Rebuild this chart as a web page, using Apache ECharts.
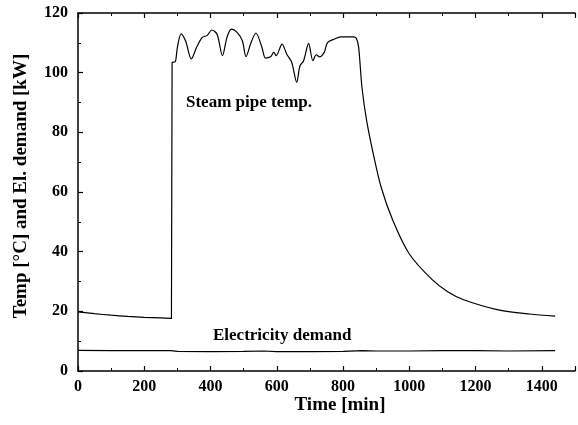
<!DOCTYPE html>
<html>
<head>
<meta charset="utf-8">
<script src="https://cdn.jsdelivr.net/npm/echarts@6/dist/echarts.min.js"></script>
<style>
  html, body { margin: 0; padding: 0; background: #fff; }
  #chart { width: 578px; height: 425px; }
</style>
</head>
<body>
<div id="chart"></div>
<script>
// Steam pipe temperature over one day (min, °C)
const steamTime = [0, 50, 100, 150, 200, 250, 282, 284, 293, 300, 311, 325, 342, 358, 375, 390, 404, 420, 436, 450, 463, 480, 496, 507, 522, 537, 555, 566, 581, 591, 598, 616, 630, 645, 660, 670, 681, 696, 709, 719, 729, 743, 753, 773, 793, 832, 840, 847, 857, 871, 891, 915, 950, 999, 1068, 1117, 1166, 1265, 1363, 1440];
const steamTemp = [19.8, 19.2, 18.7, 18.3, 18.0, 17.8, 17.6, 103.5, 103.6, 108.5, 113.0, 110.5, 104.6, 108.5, 111.8, 112.5, 114.3, 112.8, 105.7, 112.0, 114.6, 113.5, 110.7, 105.4, 110.0, 113.3, 108.5, 104.9, 105.3, 106.8, 105.7, 109.6, 106.2, 103.5, 96.8, 102.3, 104.0, 109.8, 104.0, 106.0, 105.3, 106.8, 110.1, 111.2, 112.0, 112.0, 111.5, 108.5, 95.1, 84.0, 72.9, 61.6, 50.5, 39.4, 30.7, 26.5, 23.8, 20.6, 19.1, 18.4];

// Electricity demand over the same day (min, kW)
const elecTime = [0, 100, 200, 280, 300, 400, 500, 560, 600, 700, 800, 860, 900, 1000, 1100, 1200, 1300, 1440];
const elecDemand = [6.9, 6.8, 6.8, 6.8, 6.6, 6.5, 6.6, 6.7, 6.5, 6.5, 6.6, 6.8, 6.7, 6.7, 6.8, 6.8, 6.7, 6.8];

const xTicks = [0, 200, 400, 600, 800, 1000, 1200, 1400];
const yTicks = [0, 20, 40, 60, 80, 100, 120];

const pair = (xs, ys) => xs.map((x, i) => [x, ys[i]]);

const SERIF = '"Liberation Serif", "Times New Roman", serif';
const INK = '#000';

const frameLine = { show: true, lineStyle: { color: INK, width: 1.5 } };
const majorTick = { show: true, inside: true, length: 5, lineStyle: { color: INK, width: 1.2 } };
const minorTick = { show: true, splitNumber: 2, length: 3, lineStyle: { color: INK, width: 1 } };

const chart = echarts.init(document.getElementById('chart'), null, { renderer: 'canvas' });

chart.setOption({
  animation: false,
  backgroundColor: '#fff',
  grid: { left: 78, top: 13, width: 508.5, height: 358, containLabel: false },
  xAxis: [
    {
      type: 'value', min: 0, max: 1500, interval: 200, position: 'bottom',
      axisLine: frameLine, axisTick: majorTick, minorTick: minorTick,
      splitLine: { show: false },
      axisLabel: {
        margin: 8, color: INK, fontFamily: SERIF, fontWeight: 'bold', fontSize: 16,
        formatter: v => (xTicks.indexOf(v) >= 0 ? String(v) : '')
      }
    },
    {
      type: 'value', min: 0, max: 1500, interval: 200, position: 'top',
      axisLine: frameLine, axisTick: majorTick, minorTick: minorTick,
      splitLine: { show: false }, axisLabel: { show: false }
    }
  ],
  yAxis: [
    {
      type: 'value', min: 0, max: 120, interval: 20, position: 'left',
      axisLine: frameLine, axisTick: majorTick, minorTick: minorTick,
      splitLine: { show: false },
      axisLabel: {
        margin: 10, color: INK, fontFamily: SERIF, fontWeight: 'bold', fontSize: 16,
        formatter: v => (yTicks.indexOf(v) >= 0 ? String(v) : '')
      }
    }
  ],
  series: [
    {
      name: 'Steam pipe temp.', type: 'line', xAxisIndex: 0, yAxisIndex: 0,
      data: pair(steamTime, steamTemp), showSymbol: false,
      smooth: 0.3,
      lineStyle: { color: INK, width: 1.2 }
    },
    {
      name: 'Electricity demand', type: 'line', xAxisIndex: 0, yAxisIndex: 0,
      data: pair(elecTime, elecDemand), showSymbol: false,
      lineStyle: { color: INK, width: 1.2 }
    }
  ],
  graphic: [
    {
      type: 'text', x: 340, y: 405,
      style: { text: 'Time [min]', fill: INK, font: 'bold 19px ' + SERIF, align: 'center', verticalAlign: 'middle' }
    },
    {
      type: 'text', x: 21.5, y: 186, rotation: Math.PI / 2,
      style: { text: 'Temp [°C] and El. demand [kW]', fill: INK, font: 'bold 19px ' + SERIF, align: 'center', verticalAlign: 'middle' }
    },
    {
      type: 'text', x: 186, y: 102.6,
      style: { text: 'Steam pipe temp.', fill: INK, font: 'bold 17px ' + SERIF, align: 'left', verticalAlign: 'middle' }
    },
    {
      type: 'text', x: 213, y: 335.9,
      style: { text: 'Electricity demand', fill: INK, font: 'bold 17px ' + SERIF, align: 'left', verticalAlign: 'middle' }
    }
  ]
});
</script>
</body>
</html>
